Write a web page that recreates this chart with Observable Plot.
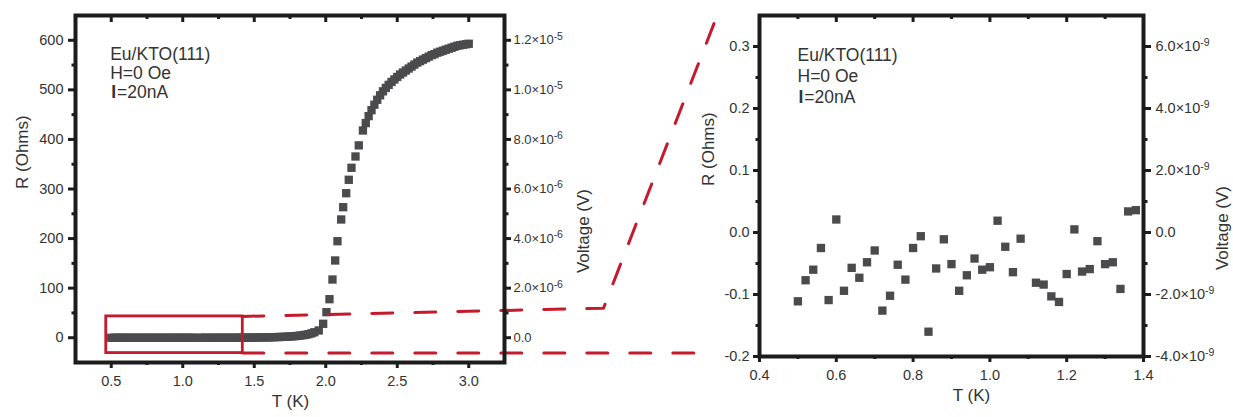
<!DOCTYPE html>
<html>
<head>
<meta charset="utf-8">
<script src="https://cdn.jsdelivr.net/npm/d3@7"></script>
<script src="https://cdn.jsdelivr.net/npm/@observablehq/plot@0.6"></script>
<style>
  html, body { margin: 0; padding: 0; background: #fff; }
  #fig { position: relative; width: 1233px; height: 417px; overflow: hidden; }
  #fig svg { position: absolute; top: 0; }
</style>
</head>
<body>
<div id="fig"></div>
<script>
// ---- Measurement: Eu/KTO(111), H = 0 Oe, I = 20 nA ----

// Low-temperature part of the sweep (boxed on the left, enlarged on the right)
const lowT = [0.50, 0.52, 0.54, 0.56, 0.58, 0.60, 0.62, 0.64, 0.66, 0.68, 0.70, 0.72, 0.74, 0.76, 0.78,
  0.80, 0.82, 0.84, 0.86, 0.88, 0.90, 0.92, 0.94, 0.96, 0.98, 1.00, 1.02, 1.04, 1.06, 1.08,
  1.12, 1.14, 1.16, 1.18, 1.20, 1.22, 1.24, 1.26, 1.28, 1.30, 1.32, 1.34, 1.36, 1.38];
const lowR = [-0.111, -0.077, -0.060, -0.025, -0.109, 0.021, -0.094, -0.057, -0.073, -0.048, -0.029, -0.126, -0.102, -0.052, -0.076,
  -0.025, -0.006, -0.160, -0.058, -0.011, -0.051, -0.094, -0.069, -0.042, -0.060, -0.056, 0.019, -0.023, -0.064, -0.010,
  -0.081, -0.084, -0.103, -0.112, -0.067, 0.005, -0.063, -0.059, -0.014, -0.051, -0.048, -0.091, 0.034, 0.036];

// Rest of the sweep: onset, transition and normal state
const highT = [1.40, 1.42, 1.44, 1.46, 1.48, 1.50, 1.52, 1.54, 1.56, 1.58, 1.60, 1.62, 1.64, 1.66, 1.68,
  1.70, 1.72, 1.74, 1.76, 1.78, 1.80, 1.82, 1.84, 1.86, 1.88, 1.90, 1.92,
  1.951, 1.982, 2.005, 2.026, 2.047, 2.066, 2.082, 2.108, 2.122, 2.143, 2.161, 2.180, 2.208, 2.231,
  2.26, 2.28, 2.30, 2.32, 2.34, 2.36, 2.38, 2.40, 2.42, 2.44, 2.46, 2.48, 2.50, 2.52, 2.54, 2.56, 2.58,
  2.60, 2.62, 2.64, 2.66, 2.68, 2.70, 2.72, 2.74, 2.76, 2.78, 2.80, 2.82, 2.84, 2.86, 2.88, 2.90,
  2.92, 2.94, 2.96, 2.98, 3.00];
const highR = [0.1, 0.1, 0.2, 0.2, 0.3, 0.3, 0.4, 0.5, 0.6, 0.7, 0.8, 0.9, 1.1, 1.3, 1.5,
  1.7, 2.0, 2.3, 2.7, 3.1, 3.6, 4.3, 5.0, 6.0, 7.2, 8.8, 11,
  14.6, 28.1, 51.5, 77.7, 117.4, 155.8, 194.7, 238.5, 263.3, 291.5, 318.6, 342.8, 365.6, 388,
  418, 433, 447, 459, 470, 480, 489, 497, 504, 510, 516, 521, 526, 531, 535, 539, 543,
  547, 551, 555, 558, 561, 564, 567, 570, 572, 575, 577, 579, 581, 583, 585, 587,
  589, 590, 591, 592, 593];

// Zoom box and connector lines, in the left panel's (T, R) coordinates
const boxT = [0.465, 1.42];
const boxR = [-31, 43];
const upperLinkT = [1.42, 3.942, 4.737];
const upperLinkR = [43, 59.5, 650];
const lowerLinkT = [1.42, 4.62];
const lowerLinkR = [-31, -31];

// Axis ticks and labels
const leftTMajor = [0.5, 1.0, 1.5, 2.0, 2.5, 3.0];
const leftTMinor = [0.75, 1.25, 1.75, 2.25, 2.75];
const leftRMajor = [0, 100, 200, 300, 400, 500, 600];
const leftRMinor = [50, 150, 250, 350, 450, 550];
const leftVoltLabels = ["0.0", "2.0×10^-6", "4.0×10^-6", "6.0×10^-6", "8.0×10^-6", "1.0×10^-5", "1.2×10^-5"];

const rightTMajor = [0.4, 0.6, 0.8, 1.0, 1.2, 1.4];
const rightTMinor = [0.5, 0.7, 0.9, 1.1, 1.3];
const rightRMajor = [-0.2, -0.1, 0.0, 0.1, 0.2, 0.3];
const rightRMinor = [-0.15, -0.05, 0.05, 0.15, 0.25];
const rightRLabels = ["-0.2", "-0.1", "0.0", "0.1", "0.2", "0.3"];
const rightVoltLabels = ["-4.0×10^-9", "-2.0×10^-9", "0.0", "2.0×10^-9", "4.0×10^-9", "6.0×10^-9"];

const legendLines = ["Eu/KTO(111)", "H=0 Oe"];
const currentSymbol = "I";
const currentValue = "=20nA";

// ---- Styling ----
const FONT = "'Liberation Sans', Arial, Helvetica, sans-serif";
const ink = "#1c1c1c";
const textInk = "#333333";
const dotFill = "#4b4b4e";
const red = "#c41a2c";

const leftData = lowT.map((T, i) => ({T, R: lowR[i]}))
  .concat(highT.map((T, i) => ({T, R: highR[i]})));
const zoomData = lowT.map((T, i) => ({T, R: lowR[i]}));

const fmt1 = d => d.toFixed(1);
const lookup = (keys, labels) => { const m = new Map(keys.map((k, i) => [k, labels[i]])); return d => m.get(d) ?? ""; };
const blank = () => "";

function frameAxes({tMajor, tMinor, rMajor, rMinor, rFormat, vFormat, ySize, vFont}) {
  return [
    Plot.frame({stroke: ink, strokeWidth: 4}),
    // bottom
    Plot.axisX({anchor: "bottom", ticks: tMajor, tickSize: 6, tickPadding: 7, tickFormat: fmt1, label: null,
      fontSize: 14.5, stroke: ink, strokeWidth: 3, fill: textInk}),
    Plot.axisX({anchor: "bottom", ticks: tMinor, tickSize: 3, tickFormat: blank, label: null, stroke: ink, strokeWidth: 3}),
    // top (ticks point inward)
    Plot.axisX({anchor: "top", ticks: tMajor, tickSize: -6, tickFormat: blank, label: null, stroke: ink, strokeWidth: 3}),
    Plot.axisX({anchor: "top", ticks: tMinor, tickSize: -3, tickFormat: blank, label: null, stroke: ink, strokeWidth: 3}),
    // left: resistance
    Plot.axisY({anchor: "left", ticks: rMajor, tickSize: ySize[0], tickPadding: ySize[1], tickFormat: rFormat, label: null,
      fontSize: 14.5, stroke: ink, strokeWidth: 3, fill: textInk}),
    Plot.axisY({anchor: "left", ticks: rMinor, tickSize: 3.5, tickFormat: blank, label: null, stroke: ink, strokeWidth: 3}),
    // right: voltage = R × I
    Plot.axisY({anchor: "right", ticks: rMajor, tickSize: ySize[2], tickPadding: ySize[3], tickFormat: vFormat, label: null,
      fontSize: vFont, stroke: ink, strokeWidth: 3, fill: textInk}),
    Plot.axisY({anchor: "right", ticks: rMinor, tickSize: 3.5, tickFormat: blank, label: null, stroke: ink, strokeWidth: 3})
  ];
}

function titles({yDx, vDx, tDx, tDy}) {
  return [
    Plot.text(["R (Ohms)"], {frameAnchor: "left", rotate: -90, dx: yDx, fontSize: 17, fill: textInk, fontFamily: FONT}),
    Plot.text(["Voltage (V)"], {frameAnchor: "right", rotate: -90, dx: vDx, fontSize: 17, fill: textInk, fontFamily: FONT}),
    Plot.text(["T (K)"], {frameAnchor: "bottom", dx: tDx, dy: tDy, fontSize: 17, fill: textInk, fontFamily: FONT})
  ];
}

function legend({dx, dy, step}) {
  const common = {frameAnchor: "top-left", textAnchor: "start", lineAnchor: "bottom", fontSize: 17.5, fill: textInk, fontFamily: FONT};
  return [
    Plot.text([legendLines[0]], {...common, dx, dy}),
    Plot.text([legendLines[1]], {...common, dx, dy: dy + step}),
    Plot.text([currentSymbol], {...common, dx: dx + 1, dy: dy + 2 * step, fontWeight: "bold"}),
    Plot.text([currentValue], {...common, dx: dx + 6.8, dy: dy + 2 * step})
  ];
}

const baseStyle = {background: "transparent", overflow: "visible", fontFamily: FONT, color: textInk};

// Left panel: full sweep
const leftPlot = Plot.plot({
  width: 740, height: 417,
  marginLeft: 75, marginRight: 236, marginTop: 15, marginBottom: 55,
  style: baseStyle,
  x: {domain: [0.25, 3.25]},
  y: {domain: [-50, 650]},
  marks: [
    Plot.dot(leftData, {x: "T", y: "R", symbol: "square", r: 4.7, fill: dotFill}),
    Plot.rect([0], {x1: () => boxT[0], x2: () => boxT[1], y1: () => boxR[0], y2: () => boxR[1],
      fill: "none", stroke: red, strokeWidth: 2.8}),
    Plot.line(upperLinkT, {x: d => d, y: (d, i) => upperLinkR[i], stroke: red, strokeWidth: 3, strokeDasharray: "21,22"}),
    Plot.line(lowerLinkT, {x: d => d, y: (d, i) => lowerLinkR[i], stroke: red, strokeWidth: 3, strokeDasharray: "21,22"}),
    ...frameAxes({tMajor: leftTMajor, tMinor: leftTMinor, rMajor: leftRMajor, rMinor: leftRMinor,
      rFormat: d => String(d), vFormat: lookup(leftRMajor, leftVoltLabels), ySize: [7, 5, 6, 3], vFont: 13}),
    ...titles({yDx: -53, vDx: 79, tDx: 0.5, tDy: 44.7}),
    ...legend({dx: 34.7, dy: 44.3, step: 19})
  ]
});

// Right panel: enlarged low-temperature region
const rightPlot = Plot.plot({
  width: 573, height: 417,
  marginLeft: 99, marginRight: 90, marginTop: 15, marginBottom: 61,
  style: baseStyle,
  x: {domain: [0.4, 1.4]},
  y: {domain: [-0.2, 0.35]},
  marks: [
    Plot.dot(zoomData, {x: "T", y: "R", symbol: "square", r: 4.7, fill: dotFill}),
    ...frameAxes({tMajor: rightTMajor, tMinor: rightTMinor, rMajor: rightRMajor, rMinor: rightRMinor,
      rFormat: lookup(rightRMajor, rightRLabels), vFormat: lookup(rightRMajor, rightVoltLabels), ySize: [6, 4, 7, 5], vFont: 14.5}),
    ...titles({yDx: -51, vDx: 79, tDx: 20, tDy: 44}),
    ...legend({dx: 38, dy: 45, step: 21})
  ]
});

// Turn "a×10^b" tick labels into a base with a raised exponent
function superscripts(svg) {
  svg.querySelectorAll("text").forEach(t => {
    const s = t.textContent;
    if (!s.includes("^")) return;
    const [base, exp] = s.split("^");
    while (t.firstChild) t.removeChild(t.firstChild);
    const b = document.createElementNS("http://www.w3.org/2000/svg", "tspan");
    b.textContent = base;
    const e = document.createElementNS("http://www.w3.org/2000/svg", "tspan");
    e.textContent = exp;
    e.setAttribute("dy", "-0.45em");
    e.setAttribute("font-size", "10.5");
    t.appendChild(b);
    t.appendChild(e);
  });
}
superscripts(leftPlot);
superscripts(rightPlot);

leftPlot.style.left = "0px";
rightPlot.style.left = "660px";
const fig = document.getElementById("fig");
fig.appendChild(rightPlot);
fig.appendChild(leftPlot);
</script>
</body>
</html>
